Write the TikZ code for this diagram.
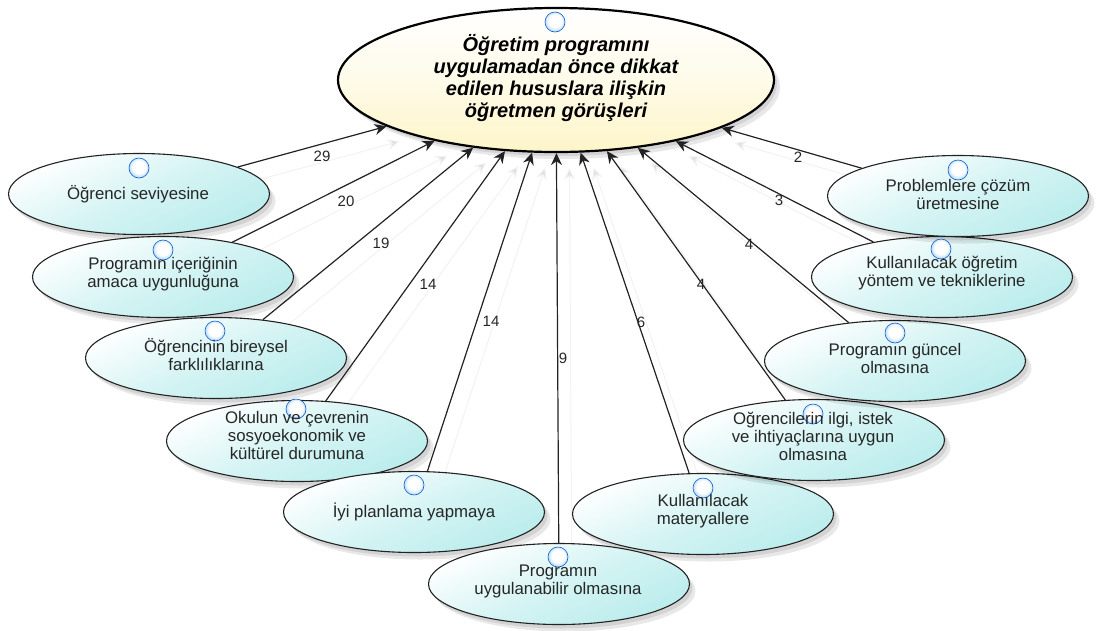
\documentclass[tikz,border=0pt]{standalone}
\usepackage{fontspec}
\setmainfont{Liberation Sans}
\usetikzlibrary{shapes.geometric,shadows,arrows.meta,backgrounds}
\definecolor{paleteal}{RGB}{186,236,236}
\definecolor{palecream}{RGB}{253,245,200}
\definecolor{inkline}{RGB}{34,34,34}
\definecolor{ballblue}{RGB}{25,115,245}
\definecolor{ballsky}{RGB}{130,195,255}
\pgfdeclareradialshading{orb}{\pgfpoint{0bp}{4bp}}{%
    color(0bp)=(white); color(16bp)=(white); color(32bp)=(ballsky);
    color(46bp)=(ballblue); color(50bp)=(ballblue)}
\tikzset{%
    oval/.style={%
        shape=ellipse, draw=inkline, line width=1.1pt, inner sep=0pt,
        minimum width=261pt, minimum height=81pt,
        shading=axis, top color=white, bottom color=paleteal, middle color=paleteal!60!white,
        shading angle=25,
        drop shadow={shadow xshift=3pt, shadow yshift=-4pt, fill=black, opacity=0.09},
        drop shadow={shadow xshift=6pt, shadow yshift=-7pt, fill=black, opacity=0.09}
    },
    mainoval/.style={%
        oval, draw=black, line width=2.2pt,
        minimum width=436pt, minimum height=144pt,
        top color=white, bottom color=palecream, middle color=palecream!40!white
    },
    ball/.style={%
        shape=circle, minimum size=20pt, inner sep=0pt, draw=ballblue!80!black, line width=0.6pt,
        shade, shading=orb
    },
    txt/.style={align=center, font=\fontsize{16.8}{18}\selectfont, text=black!85},
    maintxt/.style={align=center, font=\fontsize{20}{22}\selectfont\bfseries\itshape},
    num/.style={font=\fontsize{15}{17}\selectfont, text=black!85},
    link/.style={-{Stealth[length=12pt,width=11pt]}, line width=1.2pt, draw=inkline},
    ghost/.style={-{Stealth[length=12pt,width=11pt,fill=black!12]}, line width=1pt, draw=black!5,
        transform canvas={shift={(13,15)}}}
}
\begin{document}
\begin{tikzpicture}[x=1pt,y=-1pt]
    \useasboundingbox (0,0) rectangle (1096,630);
    % ovals
    \node[mainoval] (goal) at (556,80) {};
    \node[oval] (seviye) at (139,194) {};
    \node[oval] (icerik) at (163,277) {};
    \node[oval] (bireysel) at (216,358) {};
    \node[oval] (okul) at (297,441) {};
    \node[oval] (plan) at (414,512) {};
    \node[oval] (materyal) at (703,514) {};
    \node[oval] (uygulama) at (559,584) {};
    \node[oval] (ilgi) at (814,440) {};
    \node[oval] (guncel) at (895,361) {};
    \node[oval] (yontem) at (942,277) {};
    \node[oval] (cozum) at (958,196) {};
    % faint copies of the links
    \begin{pgfonlayer}{background}
    \draw[ghost] (seviye) -- (goal);
    \draw[ghost] (icerik) -- (goal);
    \draw[ghost] (bireysel) -- (goal);
    \draw[ghost] (okul) -- (goal);
    \draw[ghost] (plan) -- (goal);
    \draw[ghost] (uygulama) -- (goal);
    \draw[ghost] (materyal) -- (goal);
    \draw[ghost] (ilgi) -- (goal);
    \draw[ghost] (guncel) -- (goal);
    \draw[ghost] (yontem) -- (goal);
    \draw[ghost] (cozum) -- (goal);
    \end{pgfonlayer}
    % links
    \draw[link] (seviye) -- (goal);
    \draw[link] (icerik) -- (goal);
    \draw[link] (bireysel) -- (goal);
    \draw[link] (okul) -- (goal);
    \draw[link] (plan) -- (goal);
    \draw[link] (uygulama) -- (goal);
    \draw[link] (materyal) -- (goal);
    \draw[link] (ilgi) -- (goal);
    \draw[link] (guncel) -- (goal);
    \draw[link] (yontem) -- (goal);
    \draw[link] (cozum) -- (goal);
    % balls
    \node[ball] (bgoal) at (555,22) {};
    \node[ball] (bseviye) at (139,168) {};
    \node[ball] (bicerik) at (163,250) {};
    \node[ball] (bbireysel) at (215,331) {};
    \node[ball] (bokul) at (296,409) {};
    \node[ball] (bplan) at (414,485) {};
    \node[ball] (bmateryal) at (703,488) {};
    \node[ball] (buygulama) at (558,557) {};
    \node[ball] (bilgi) at (813,414) {};
    \node[ball] (bguncel) at (895,333) {};
    \node[ball] (byontem) at (941,249) {};
    \node[ball] (bcozum) at (958,170) {};
    % texts
    \node[maintxt] (tgoal) at (556,78) {Öğretim programını\\uygulamadan önce dikkat\\edilen hususlara ilişkin\\öğretmen görüşleri};
    \node[txt] (tseviye) at (138,194) {Öğrenci seviyesine};
    \node[txt] (ticerik) at (163,274) {Programın içeriğinin\\amaca uygunluğuna};
    \node[txt] (tbireysel) at (216,355) {Öğrencinin bireysel\\farklılıklarına};
    \node[txt] (tokul) at (297,435) {Okulun ve çevrenin\\sosyoekonomik ve\\kültürel durumuna};
    \node[txt] (tplan) at (414,512) {İyi planlama yapmaya};
    \node[txt] (tmateryal) at (703,511) {Kullanılacak\\materyallere};
    \node[txt] (tuygulama) at (558,581) {Programın\\uygulanabilir olmasına};
    \node[txt] (tilgi) at (813,436) {Oğrencilerin ilgi, istek\\ve ihtiyaçlarına uygun\\olmasına};
    \node[txt] (tguncel) at (895,358) {Programın güncel\\olmasına};
    \node[txt] (tyontem) at (942,273) {Kullanılacak öğretim\\yöntem ve tekniklerine};
    \node[txt] (tcozum) at (958,194) {Problemlere çözüm\\üretmesine};
    % counts
    \node[num] (n1) at (322,156) {29};
    \node[num] (n2) at (346,201) {20};
    \node[num] (n3) at (381,243) {19};
    \node[num] (n4) at (428,284) {14};
    \node[num] (n5) at (491,321) {14};
    \node[num] (n6) at (563,358) {9};
    \node[num] (n7) at (641,322) {6};
    \node[num] (n8) at (701,284) {4};
    \node[num] (n9) at (749,244) {4};
    \node[num] (n10) at (779,200) {3};
    \node[num] (n11) at (798,157) {2};
\end{tikzpicture}
\end{document}
